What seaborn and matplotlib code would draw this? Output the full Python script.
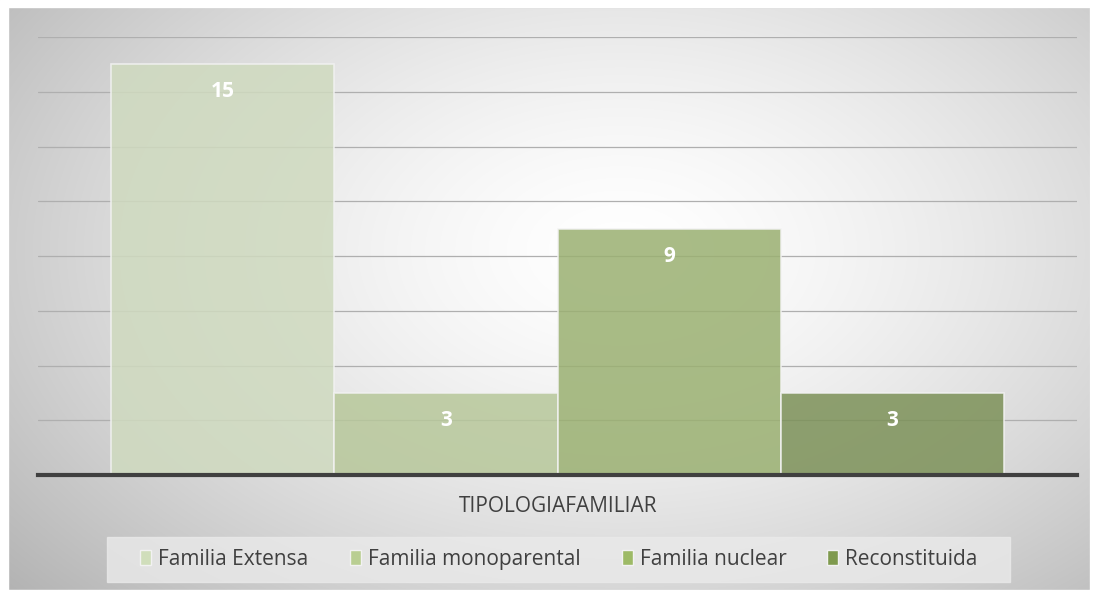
import numpy as np
import pandas as pd
import matplotlib.pyplot as plt
import seaborn as sns
from matplotlib.patches import Rectangle

categoria = ["TIPOLOGIAFAMILIAR"]
tipos = ["Familia Extensa", "Familia monoparental", "Familia nuclear", "Reconstituida"]
valores = [15, 3, 9, 3]
colores = ["#D0DEBB", "#B9CE92", "#9DBA66", "#7F9A4E"]

df = pd.DataFrame({"cat": categoria * len(tipos), "tipo": tipos, "valor": valores})

sns.set_style("white")
plt.rcParams["font.family"] = ["Open Sans", "DejaVu Sans"]

fig = plt.figure(figsize=(10.97, 5.93), dpi=100)

# fondo con degradado radial
bg = fig.add_axes([0, 0, 1, 1], zorder=-10)
yy, xx = np.mgrid[0:593, 0:1097]
r = np.sqrt(((xx - 620) / 720.0) ** 2 + ((yy - 250) / 460.0) ** 2)
g = 1.0 - 0.25 * np.clip(r, 0, 1.2) ** 1.5
img = np.dstack([g, g, g])
bg.imshow(img, extent=[0, 1097, 593, 0], aspect="auto")
bg.add_patch(Rectangle((8, 7), 1082, 583, fill=False, edgecolor="#BFBFBF", lw=1))
bg.add_patch(Rectangle((0, 0), 1097, 7, color="white"))
bg.add_patch(Rectangle((0, 590), 1097, 3, color="white"))
bg.add_patch(Rectangle((0, 0), 8, 593, color="white"))
bg.add_patch(Rectangle((1090, 0), 7, 593, color="white"))
bg.set_xlim(0, 1097)
bg.set_ylim(593, 0)
bg.axis("off")

ax = fig.add_axes([38 / 1097, 1 - 475 / 593, (1077 - 38) / 1097, (475 - 37) / 593])
ax.patch.set_alpha(0)
sns.barplot(data=df, x="cat", y="valor", hue="tipo", palette=colores, width=0.86,
            alpha=0.85, edgecolor="#F2F2F2", linewidth=1.2, ax=ax, legend=False, zorder=3)

ax.set_ylim(0, 16)
ax.set_yticks(np.arange(0, 17, 2))
ax.yaxis.grid(True, color="#AFAFAF", lw=0.9)
ax.set_axisbelow(True)
ax.tick_params(left=False, labelleft=False, bottom=False, labelbottom=False)
for s in ["top", "right", "left"]:
    ax.spines[s].set_visible(False)
ax.spines["bottom"].set_color("#404040")
ax.spines["bottom"].set_linewidth(3)
ax.spines["bottom"].set_zorder(5)
ax.set_xlabel("")
ax.set_ylabel("")

for cont in ax.containers:
    for bar in cont:
        h = bar.get_height()
        ax.text(bar.get_x() + bar.get_width() / 2, h - 1.0, f"{int(h)}",
                ha="center", va="center", color="white", fontsize=15, fontweight="bold", zorder=6)

fig.text(558 / 1097, 1 - 506 / 593, "TIPOLOGIAFAMILIAR", ha="center", va="center",
         fontsize=15, color="#404040")

# leyenda (una entrada por leyenda, alineadas arriba para que las líneas base coincidan)
bg.add_patch(Rectangle((107, 537), 903, 45, color="#EAEAEA", alpha=0.8, zorder=2))
leg_x = [140, 350, 622, 827]
for x0, c, t in zip(leg_x, colores, tipos):
    h = Rectangle((0, 0), 1, 1, facecolor=c, edgecolor="#F2F2F2")
    fig.legend([h], [t], loc="upper left", bbox_to_anchor=(x0 / 1097, 1 - 549 / 593),
               frameon=False, fontsize=15, handlelength=0.55, handleheight=0.75,
               handletextpad=0.3, borderaxespad=0, borderpad=0, labelcolor="#404040")

fig.savefig("out.png", dpi=100)
